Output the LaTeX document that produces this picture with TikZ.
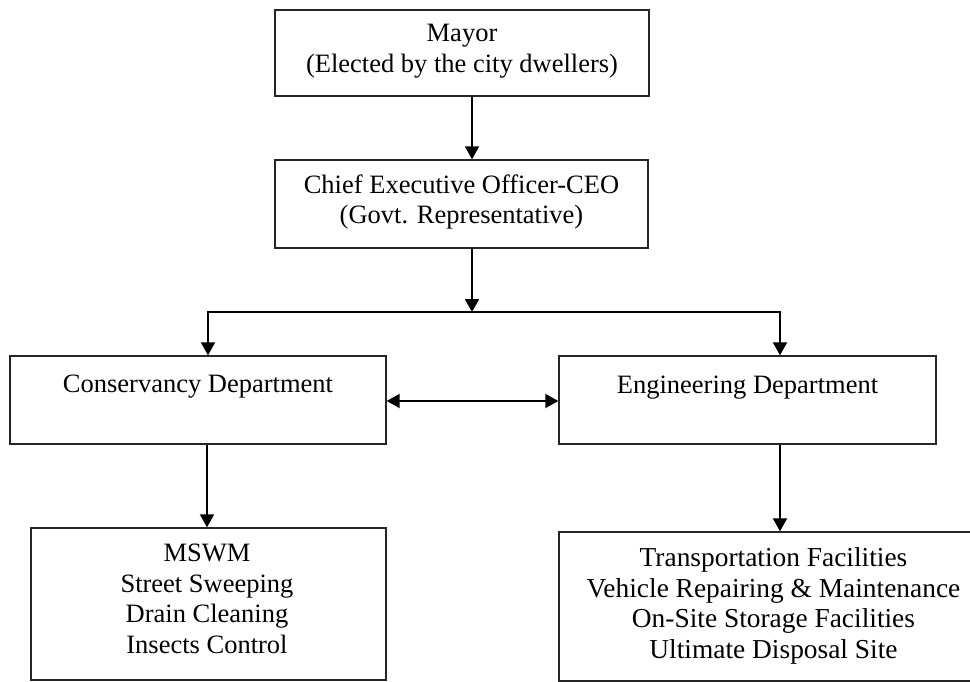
\documentclass[tikz,border=0pt]{standalone}
\usepackage{fontspec}
\setmainfont{Liberation Serif}
\usetikzlibrary{arrows.meta}
\begin{document}
\begin{tikzpicture}[x=1pt,y=-1pt,
  boxnode/.style={draw=black!85, line width=1.4pt, rectangle, inner sep=0pt},
  txt/.style={inner sep=0pt, align=center, font=\fontsize{26.5}{30.5}\selectfont},
  bigtxt/.style={inner sep=0pt, align=center, font=\fontsize{27.4}{30.5}\selectfont},
  conn/.style={draw=black, line width=2pt, -{Triangle[length=13pt,width=14pt]}},
  dconn/.style={draw=black, line width=2pt, {Triangle[length=13pt,width=14pt]}-{Triangle[length=13pt,width=14pt]}},
  plain/.style={draw=black, line width=2pt}]
\useasboundingbox (0,0) rectangle (970,682);
\clip (0,0) rectangle (970,682);
\fill[white] (0,0) rectangle (970,682);

% boxes
\node[boxnode, minimum width=374pt, minimum height=86pt] (mayor) at (462,53) {};
\node[boxnode, minimum width=373pt, minimum height=88pt] (ceo) at (461.5,204) {};
\node[boxnode, minimum width=376pt, minimum height=88pt] (cons) at (198,400) {};
\node[boxnode, minimum width=377pt, minimum height=88pt] (eng) at (747.5,400) {};
\node[boxnode, minimum width=355pt, minimum height=152pt] (mswm) at (208.5,604) {};
\node[boxnode, minimum width=431pt, minimum height=149pt] (fac) at (774.5,606.5) {};

% texts
\node[txt] (mayortxt) at (462,51) {Mayor\\(Elected by the city dwellers)};
\node[txt] (ceotxt) at (461.5,202) {Chief Executive Officer-CEO\\(Govt. Representative)};
\node[txt, anchor=base] (constxt) at (198,392) {Conservancy Department};
\node[txt, anchor=base] (engtxt) at (747.5,393) {Engineering Department};
\node[txt] (mswmtxt) at (207,599) {MSWM\\Street Sweeping\\Drain Cleaning\\Insects Control};
\node[bigtxt] (factxt) at (773.5,606) {Transportation Facilities\\Vehicle Repairing \& Maintenance\\On-Site Storage Facilities\\Ultimate Disposal Site};

% junctions
\coordinate (jc) at (472,312);
\coordinate (jl) at (208,312);
\coordinate (jr) at (780,312);

% connectors
\draw[conn] (mayor.south -| jc) -- (ceo.north -| jc);
\draw[conn] (ceo.south -| jc) -- (jc);
\draw[plain, line cap=rect] (jl) -- (jr);
\draw[conn] (jl) -- (cons.north -| jl);
\draw[conn] (jr) -- (eng.north -| jr);
\draw[dconn] (cons.east |- 0,401) -- (eng.west |- 0,401);
\draw[conn] (cons.south -| 207,0) -- (mswm.north -| 207,0);
\draw[conn] (eng.south -| jr) -- (fac.north -| jr);
\end{tikzpicture}
\end{document}
